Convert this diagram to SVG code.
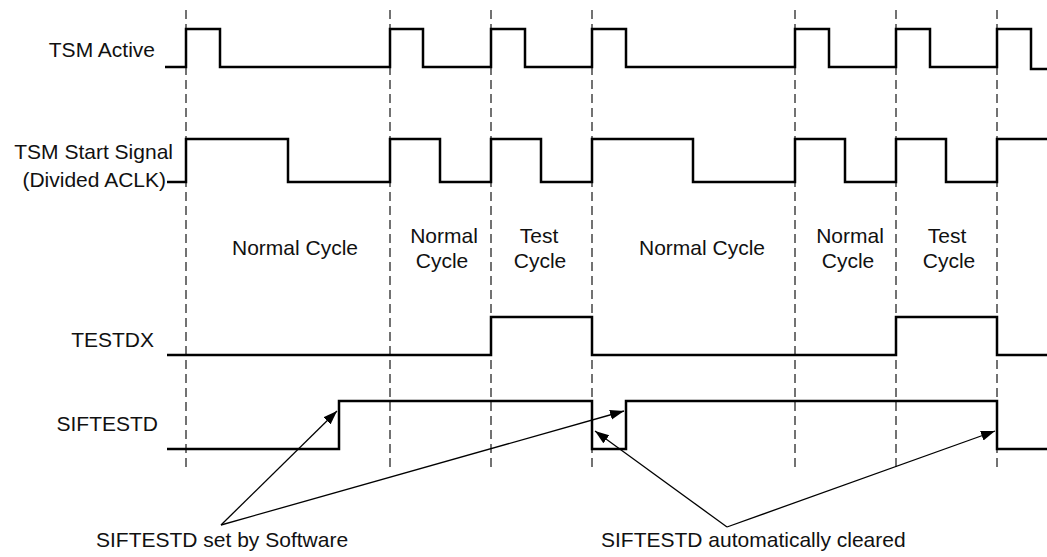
<svg xmlns="http://www.w3.org/2000/svg" width="1047" height="557" viewBox="0 0 1047 557">
<style>
.lbl{font-family:"Liberation Sans",Arial,sans-serif;font-size:21px;fill:#111}
.sig{fill:none;stroke:#000;stroke-width:2.5}
.grid{stroke:#444;stroke-width:1.5;stroke-dasharray:9 5}
.arr{fill:none;stroke:#000;stroke-width:1.3}
</style>
<defs>
<marker id="ah" markerUnits="userSpaceOnUse" markerWidth="15" markerHeight="11" refX="14" refY="5" orient="auto">
<path d="M0,0 L14,5 L0,10 z" fill="#000"/>
</marker>
</defs>
<rect width="1047" height="557" fill="#fff"/>
<g id="gridlines">
<line class="grid" x1="186" y1="10" x2="186" y2="468"/>
<line class="grid" x1="390" y1="10" x2="390" y2="468"/>
<line class="grid" x1="491" y1="10" x2="491" y2="468"/>
<line class="grid" x1="592" y1="10" x2="592" y2="468"/>
<line class="grid" x1="795" y1="10" x2="795" y2="468"/>
<line class="grid" x1="896" y1="10" x2="896" y2="468"/>
<line class="grid" x1="997" y1="10" x2="997" y2="468"/>
</g>
<g id="tsm-active">
<text class="lbl" x="155" y="57" text-anchor="end">TSM Active</text>
<path class="sig" d="M165,67 H186 V29 H220 V67 H390 V29 H423 V67 H491 V29 H525 V67 H592 V29 H626 V67 H795 V29 H829 V67 H896 V29 H930 V67 H997 V29 H1031 V69 H1047"/>
</g>
<g id="tsm-start">
<text class="lbl" x="173" y="159" text-anchor="end">TSM Start Signal</text>
<text class="lbl" x="166" y="187" text-anchor="end">(Divided ACLK)</text>
<path class="sig" d="M167,182 H186 V139 H288 V182 H390 V139 H440 V182 H491 V139 H541 V182 H592 V139 H693 V182 H795 V139 H845 V182 H896 V139 H946 V182 H997 V139 H1047"/>
</g>
<g id="cycles">
<text class="lbl" x="295" y="255" text-anchor="middle">Normal Cycle</text>
<text class="lbl" x="444" y="243" text-anchor="middle">Normal</text>
<text class="lbl" x="442" y="268" text-anchor="middle">Cycle</text>
<text class="lbl" x="539" y="243" text-anchor="middle">Test</text>
<text class="lbl" x="540" y="268" text-anchor="middle">Cycle</text>
<text class="lbl" x="702" y="255" text-anchor="middle">Normal Cycle</text>
<text class="lbl" x="850" y="243" text-anchor="middle">Normal</text>
<text class="lbl" x="848" y="268" text-anchor="middle">Cycle</text>
<text class="lbl" x="947" y="243" text-anchor="middle">Test</text>
<text class="lbl" x="949" y="268" text-anchor="middle">Cycle</text>
</g>
<g id="testdx">
<text class="lbl" x="154" y="347" text-anchor="end">TESTDX</text>
<path class="sig" d="M167,355 H491 V317 H592 V355 H896 V317 H997 V355 H1047"/>
</g>
<g id="siftestd">
<text class="lbl" x="158" y="431" text-anchor="end">SIFTESTD</text>
<path class="sig" d="M167,449 H339 V401 H592 V449 H626 V401 H997 V449 H1047"/>
</g>
<g id="note-set">
<text class="lbl" x="96" y="547">SIFTESTD set by Software</text>
</g>
<g id="note-cleared">
<text class="lbl" x="601" y="547">SIFTESTD automatically cleared</text>
</g>
<g id="connectors">
<line class="arr" x1="221" y1="525" x2="337" y2="411" marker-end="url(#ah)"/>
<line class="arr" x1="221" y1="525" x2="624" y2="411" marker-end="url(#ah)"/>
<line class="arr" x1="727" y1="527" x2="595" y2="431" marker-end="url(#ah)"/>
<line class="arr" x1="727" y1="527" x2="995" y2="431" marker-end="url(#ah)"/>
</g>
</svg>
